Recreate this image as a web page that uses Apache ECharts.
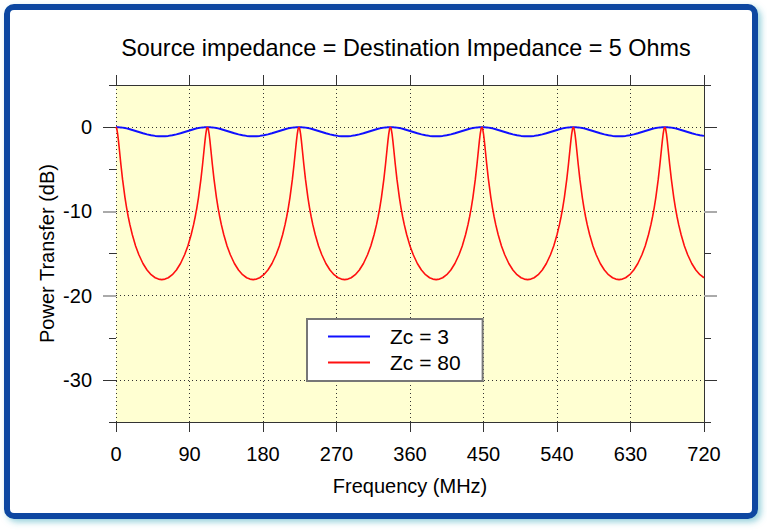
<!DOCTYPE html>
<html>
<head>
<meta charset="utf-8">
<script src="https://cdn.jsdelivr.net/npm/echarts@6/dist/echarts.min.js"></script>
<style>
html,body{margin:0;padding:0;background:#fff;}
#chart{width:767px;height:530px;}
</style>
</head>
<body>
<div id="chart"></div>
<script>
// Frequency samples (MHz)
var freqMHz = [
  0,1,2,3,4,6,8,11,13,15,17,20,24,28,33,38,43,48,52,56,60,64,69,74,79,84,88,92,95,97,99,101,104,106,108,109,110,111,
  112,113,114,115,116,118,120,123,125,127,129,132,136,140,145,150,155,160,164,168,172,176,181,186,191,196,200,204,207,209,211,213,216,218,220,221,222,223,
  224,225,226,227,228,230,232,235,237,239,241,244,248,252,257,262,267,272,276,280,284,288,293,298,303,308,312,316,319,321,323,325,328,330,332,333,334,335,
  336,337,338,339,340,342,344,347,349,351,353,356,360,364,369,374,379,384,388,392,396,400,405,410,415,420,424,428,431,433,435,437,440,442,444,445,446,447,
  448,449,450,451,452,454,456,459,461,463,465,468,472,476,481,486,491,496,500,504,508,512,517,522,527,532,536,540,543,545,547,549,552,554,556,557,558,559,
  560,561,562,563,564,566,568,571,573,575,577,580,584,588,593,598,603,608,612,616,620,624,629,634,639,644,648,652,655,657,659,661,664,666,668,669,670,671,
  672,673,674,675,676,678,680,683,685,687,689,692,696,700,705,710,715,720
];
// Power transfer (dB), Zc = 3
var zc3 = [
  0,0,0,-0.01,-0.02,-0.03,-0.06,-0.11,-0.15,-0.20,-0.25,-0.34,-0.46,-0.58,-0.73,-0.86,-0.96,-1.04,-1.08,-1.09,-1.08,-1.04,-0.96,-0.86,-0.73,-0.58,-0.46,-0.34,-0.25,-0.20,-0.15,-0.11,-0.06,-0.03,-0.02,-0.01,0,0,
  0,0,0,-0.01,-0.02,-0.03,-0.06,-0.11,-0.15,-0.20,-0.25,-0.34,-0.46,-0.58,-0.73,-0.86,-0.96,-1.04,-1.08,-1.09,-1.08,-1.04,-0.96,-0.86,-0.73,-0.58,-0.46,-0.34,-0.25,-0.20,-0.15,-0.11,-0.06,-0.03,-0.02,-0.01,0,0,
  0,0,0,-0.01,-0.02,-0.03,-0.06,-0.11,-0.15,-0.20,-0.25,-0.34,-0.46,-0.58,-0.73,-0.86,-0.96,-1.04,-1.08,-1.09,-1.08,-1.04,-0.96,-0.86,-0.73,-0.58,-0.46,-0.34,-0.25,-0.20,-0.15,-0.11,-0.06,-0.03,-0.02,-0.01,0,0,
  0,0,0,-0.01,-0.02,-0.03,-0.06,-0.11,-0.15,-0.20,-0.25,-0.34,-0.46,-0.58,-0.73,-0.86,-0.96,-1.04,-1.08,-1.09,-1.08,-1.04,-0.96,-0.86,-0.73,-0.58,-0.46,-0.34,-0.25,-0.20,-0.15,-0.11,-0.06,-0.03,-0.02,-0.01,0,0,
  0,0,0,-0.01,-0.02,-0.03,-0.06,-0.11,-0.15,-0.20,-0.25,-0.34,-0.46,-0.58,-0.73,-0.86,-0.96,-1.04,-1.08,-1.09,-1.08,-1.04,-0.96,-0.86,-0.73,-0.58,-0.46,-0.34,-0.25,-0.20,-0.15,-0.11,-0.06,-0.03,-0.02,-0.01,0,0,
  0,0,0,-0.01,-0.02,-0.03,-0.06,-0.11,-0.15,-0.20,-0.25,-0.34,-0.46,-0.58,-0.73,-0.86,-0.96,-1.04,-1.08,-1.09,-1.08,-1.04,-0.96,-0.86,-0.73,-0.58,-0.46,-0.34,-0.25,-0.20,-0.15,-0.11,-0.06,-0.03,-0.02,-0.01,0,0,
  0,0,0,-0.01,-0.02,-0.03,-0.06,-0.11,-0.15,-0.20,-0.25,-0.34,-0.46,-0.58,-0.73,-0.86,-0.96,-1.04
];
// Power transfer (dB), Zc = 80
var zc80 = [
  0,-0.21,-0.79,-1.61,-2.54,-4.44,-6.18,-8.36,-9.58,-10.64,-11.58,-12.78,-14.10,-15.15,-16.19,-16.96,-17.52,-17.88,-18.04,-18.10,-18.04,-17.88,-17.52,-16.96,-16.19,-15.15,-14.10,-12.78,-11.58,-10.64,-9.58,-8.36,-6.18,-4.44,-2.54,-1.61,-0.79,-0.21,
  0,-0.21,-0.79,-1.61,-2.54,-4.44,-6.18,-8.36,-9.58,-10.64,-11.58,-12.78,-14.10,-15.15,-16.19,-16.96,-17.52,-17.88,-18.04,-18.10,-18.04,-17.88,-17.52,-16.96,-16.19,-15.15,-14.10,-12.78,-11.58,-10.64,-9.58,-8.36,-6.18,-4.44,-2.54,-1.61,-0.79,-0.21,
  0,-0.21,-0.79,-1.61,-2.54,-4.44,-6.18,-8.36,-9.58,-10.64,-11.58,-12.78,-14.10,-15.15,-16.19,-16.96,-17.52,-17.88,-18.04,-18.10,-18.04,-17.88,-17.52,-16.96,-16.19,-15.15,-14.10,-12.78,-11.58,-10.64,-9.58,-8.36,-6.18,-4.44,-2.54,-1.61,-0.79,-0.21,
  0,-0.21,-0.79,-1.61,-2.54,-4.44,-6.18,-8.36,-9.58,-10.64,-11.58,-12.78,-14.10,-15.15,-16.19,-16.96,-17.52,-17.88,-18.04,-18.10,-18.04,-17.88,-17.52,-16.96,-16.19,-15.15,-14.10,-12.78,-11.58,-10.64,-9.58,-8.36,-6.18,-4.44,-2.54,-1.61,-0.79,-0.21,
  0,-0.21,-0.79,-1.61,-2.54,-4.44,-6.18,-8.36,-9.58,-10.64,-11.58,-12.78,-14.10,-15.15,-16.19,-16.96,-17.52,-17.88,-18.04,-18.10,-18.04,-17.88,-17.52,-16.96,-16.19,-15.15,-14.10,-12.78,-11.58,-10.64,-9.58,-8.36,-6.18,-4.44,-2.54,-1.61,-0.79,-0.21,
  0,-0.21,-0.79,-1.61,-2.54,-4.44,-6.18,-8.36,-9.58,-10.64,-11.58,-12.78,-14.10,-15.15,-16.19,-16.96,-17.52,-17.88,-18.04,-18.10,-18.04,-17.88,-17.52,-16.96,-16.19,-15.15,-14.10,-12.78,-11.58,-10.64,-9.58,-8.36,-6.18,-4.44,-2.54,-1.61,-0.79,-0.21,
  0,-0.21,-0.79,-1.61,-2.54,-4.44,-6.18,-8.36,-9.58,-10.64,-11.58,-12.78,-14.10,-15.15,-16.19,-16.96,-17.52,-17.88
];
var seriesNames = ['Zc = 3', 'Zc = 80'];
var yDarkMajorTicks = [0, -30];
var yGrayMajorTicks = [-10, -20];
var titleText = 'Source impedance = Destination Impedance = 5 Ohms';
var xName = 'Frequency (MHz)';
var yName = 'Power Transfer (dB)';

function zip(xs, ys) { return xs.map(function (x, i) { return [x, ys[i]]; }); }

var FONT = '"Liberation Sans", Arial, Helvetica, sans-serif';
var AX = '#333';
var chart = echarts.init(document.getElementById('chart'), null, {renderer: 'svg'});

var baseY = { type: 'value', min: -35, max: 5, interval: 5 };
function yAx(extra) { return Object.assign({}, baseY, extra); }
function tickAxis(pos, len, vals, color, width) {
  return yAx({ position: pos,
    axisLine: { show: false, onZero: false },
    axisTick: { show: true, length: len, customValues: vals, lineStyle: { color: color, width: width } },
    axisLabel: { show: false }, splitLine: { show: false }
  });
}

chart.setOption({
  animation: false,
  backgroundColor: '#fff',
  textStyle: { fontFamily: FONT },
  graphic: [{
    type: 'rect', z: -10, silent: true,
    shape: { x: 7, y: 7, width: 748, height: 509, r: 7 },
    style: { fill: '#fff', stroke: '#0747a1', lineWidth: 6,
             shadowColor: 'rgba(60,170,190,0.55)', shadowBlur: 6, shadowOffsetX: 3, shadowOffsetY: 3 }
  }],
  title: {
    text: titleText, left: 401, textAlign: 'center', top: 31,
    textStyle: { fontFamily: FONT, fontSize: 23.4, fontWeight: 'normal', color: '#000' }
  },
  legend: {
    data: seriesNames, orient: 'vertical', left: 307, top: 319,
    backgroundColor: '#fff', borderColor: '#777', borderWidth: 2,
    padding: [7, 22, 8, 21], itemGap: 5,
    icon: 'rect', itemWidth: 42, itemHeight: 2,
    textStyle: { fontFamily: FONT, fontSize: 21, color: '#000', padding: [0, 0, 0, 15] }
  },
  grid: { left: 116, right: 63, top: 85, bottom: 108, show: true,
          backgroundColor: '#ffffd2', borderWidth: 0 },
  xAxis: [{
    type: 'value', position: 'bottom', min: 0, max: 720, interval: 90,
    axisLine: { show: true, onZero: false, lineStyle: { color: AX, width: 1 } },
    axisTick: { show: true, length: 10, lineStyle: { color: AX } },
    axisLabel: { fontFamily: FONT, fontSize: 20, color: '#000', margin: 22 },
    splitLine: { show: true, lineStyle: { color: AX, type: [1, 3], width: 1 } },
    name: xName, nameLocation: 'middle', nameGap: 54, nameMoveOverlap: false,
    nameTextStyle: { fontFamily: FONT, fontSize: 20, color: '#000' }
  }, {
    type: 'value', position: 'top', min: 0, max: 720, interval: 90,
    axisLine: { show: true, onZero: false, lineStyle: { color: AX, width: 1 } },
    axisTick: { show: true, length: 10, lineStyle: { color: AX } },
    axisLabel: { show: false }, splitLine: { show: false }
  }],
  yAxis: [
    yAx({ position: 'left',
      axisLine: { show: false, onZero: false },
      axisTick: { show: true, length: 7, lineStyle: { color: AX } },
      axisLabel: { fontFamily: FONT, fontSize: 20, color: '#000', margin: 24,
                   formatter: function (v) { return v % 10 === 0 && v <= 0 && v >= -30 ? String(v) : ''; } },
      splitLine: { show: true, lineStyle: { color: ['rgba(0,0,0,0)', AX], type: [1, 3], width: 1 } },
      name: yName, nameLocation: 'middle', nameRotate: 90, nameGap: 59, nameMoveOverlap: false,
      nameTextStyle: { fontFamily: FONT, fontSize: 20, color: '#000' }
    }),
    tickAxis('left', 13, yDarkMajorTicks, AX, 1),
    tickAxis('left', 13, yGrayMajorTicks, '#aaa', 2),
    yAx({ position: 'right',
      axisLine: { show: true, onZero: false, lineStyle: { color: AX, width: 1 } },
      axisTick: { show: true, length: 7, lineStyle: { color: AX } },
      axisLabel: { show: false }, splitLine: { show: false }
    }),
    tickAxis('right', 13, yDarkMajorTicks, AX, 1),
    tickAxis('right', 13, yGrayMajorTicks, '#aaa', 2)
  ],
  series: [{
    name: seriesNames[0], type: 'line', xAxisIndex: 0, yAxisIndex: 0,
    data: zip(freqMHz, zc3), showSymbol: false, symbol: 'none',
    lineStyle: { color: '#1010ff', width: 2 }, itemStyle: { color: '#1010ff' }
  }, {
    name: seriesNames[1], type: 'line', xAxisIndex: 0, yAxisIndex: 0,
    data: zip(freqMHz, zc80), showSymbol: false, symbol: 'none',
    lineStyle: { color: '#ff1010', width: 1.6 }, itemStyle: { color: '#ff1010' }
  }]
});
</script>
</body>
</html>
